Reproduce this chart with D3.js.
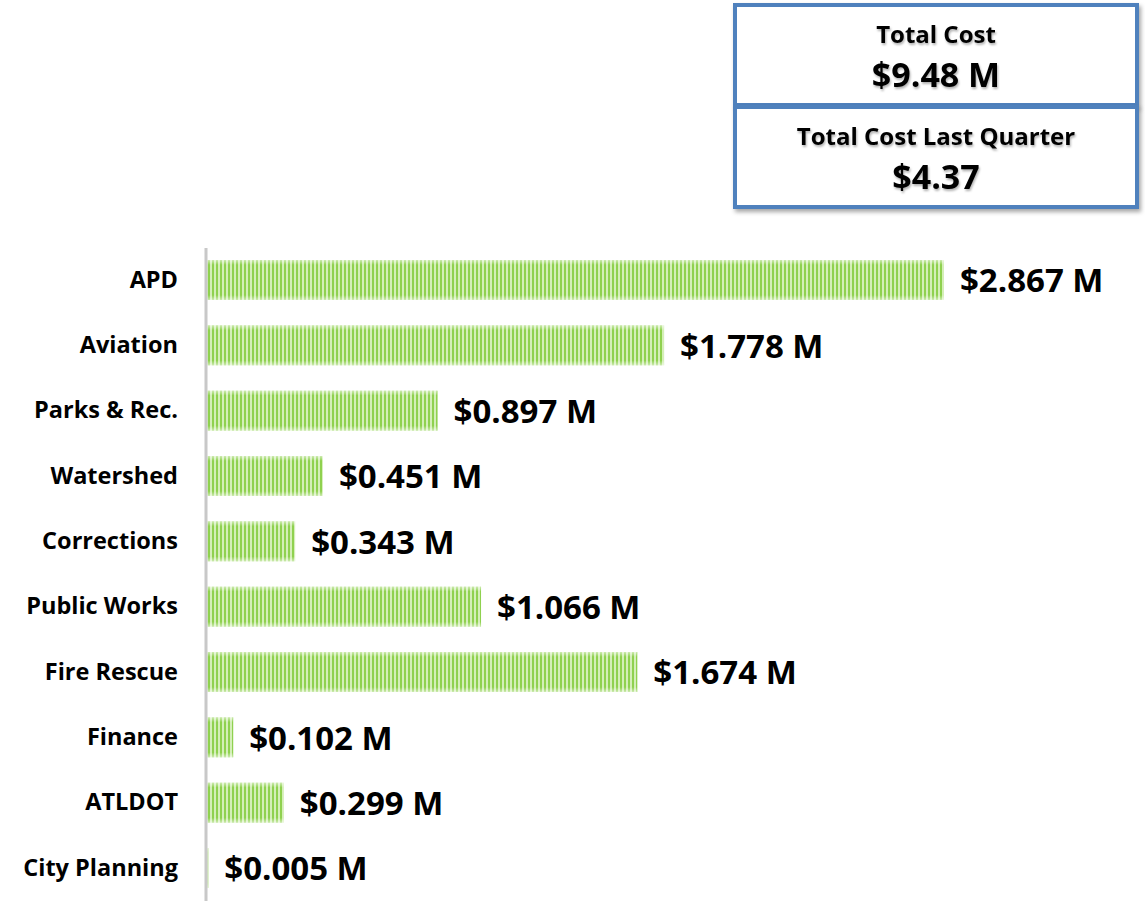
<!DOCTYPE html>
<html>
<head>
<meta charset="utf-8">
<script src="https://cdn.jsdelivr.net/npm/d3@7"></script>
<style>
  body { margin: 0; background: #fff; }
  svg { display: block; font-family: "Open Sans", sans-serif; font-weight: bold; }
</style>
</head>
<body>
<svg id="chart"></svg>
<script>
// department cost chart
const departments = ["APD", "Aviation", "Parks & Rec.", "Watershed", "Corrections",
    "Public Works", "Fire Rescue", "Finance", "ATLDOT", "City Planning"];
const costs = [2.867, 1.778, 0.897, 0.451, 0.343, 1.066, 1.674, 0.102, 0.299, 0.005];

const summaryTitles = ["Total Cost", "Total Cost Last Quarter"];
const summaryValues = ["$9.48 M", "$4.37"];

const width = 1145, height = 904;

const svg = d3.select("#chart")
    .attr("width", width)
    .attr("height", height);

const defs = svg.append("defs");

// vertical stripes for bars
const pat = defs.append("pattern")
    .attr("id", "stripes")
    .attr("patternUnits", "userSpaceOnUse")
    .attr("width", 4)
    .attr("height", 4);
pat.append("rect").attr("width", 4).attr("height", 4).attr("fill", "#d4efb8");
pat.append("rect").attr("width", 2).attr("height", 4).attr("fill", "#8fd14f");

// soft fade at top/bottom of bars
const fade = defs.append("linearGradient")
    .attr("id", "fade")
    .attr("x1", 0).attr("y1", 0).attr("x2", 0).attr("y2", 1);
fade.append("stop").attr("offset", "0%").attr("stop-color", "#fff").attr("stop-opacity", 0.55);
fade.append("stop").attr("offset", "12%").attr("stop-color", "#fff").attr("stop-opacity", 0);
fade.append("stop").attr("offset", "88%").attr("stop-color", "#fff").attr("stop-opacity", 0);
fade.append("stop").attr("offset", "100%").attr("stop-color", "#fff").attr("stop-opacity", 0.55);

const shadow = defs.append("filter").attr("id", "shadow")
    .attr("x", "-5%").attr("y", "-10%").attr("width", "115%").attr("height", "130%");
shadow.append("feDropShadow")
    .attr("dx", 2).attr("dy", 3).attr("stdDeviation", 2)
    .attr("flood-color", "#000").attr("flood-opacity", 0.35);

const textShadow = defs.append("filter").attr("id", "tshadow");
textShadow.append("feDropShadow")
    .attr("dx", 1).attr("dy", 2).attr("stdDeviation", 1.2)
    .attr("flood-color", "#000").attr("flood-opacity", 0.3);

// scales
const x = d3.scaleLinear()
    .domain([0, 2.867])
    .range([207, 944]);

const y = d3.scaleBand()
    .domain(departments)
    .range([247, 901])
    .paddingInner(0.39)
    .paddingOuter(0.2);

// bars
const bars = svg.append("g");
bars.selectAll("rect.bar")
    .data(costs)
    .join("rect")
    .attr("class", "bar")
    .attr("x", x(0))
    .attr("y", (d, i) => y(departments[i]))
    .attr("width", d => x(d) - x(0))
    .attr("height", y.bandwidth())
    .attr("fill", "url(#stripes)");

bars.selectAll("rect.fade")
    .data(costs)
    .join("rect")
    .attr("class", "fade")
    .attr("x", x(0))
    .attr("y", (d, i) => y(departments[i]))
    .attr("width", d => x(d) - x(0))
    .attr("height", y.bandwidth())
    .attr("fill", "url(#fade)");

// axis line on the left
const axis = svg.append("g")
    .attr("transform", `translate(${x(0) - 1},0)`)
    .call(d3.axisLeft(y).tickSize(0).tickPadding(28));
axis.select(".domain")
    .attr("d", `M0,248V901`)
    .attr("stroke", "#c8c8c8")
    .attr("stroke-width", 3);
axis.selectAll(".tick text")
    .attr("font-family", "Open Sans, sans-serif")
    .attr("font-weight", "bold")
    .attr("font-size", 23.5)
    .attr("fill", "#000");

// value labels
svg.append("g").selectAll("text")
    .data(costs)
    .join("text")
    .attr("x", d => x(d) + 16)
    .attr("y", (d, i) => y(departments[i]) + y.bandwidth() / 2)
    .attr("dy", "0.37em")
    .attr("font-size", 33)
    .attr("fill", "#000")
    .text(d => `$${d.toFixed(3)} M`);

// summary boxes top right
const boxY = [5, 107];
const box = svg.append("g").selectAll("g")
    .data(summaryTitles)
    .join("g")
    .attr("transform", (d, i) => `translate(735,${boxY[i]})`);

box.append("rect")
    .attr("width", 402)
    .attr("height", 100)
    .attr("fill", "#fff")
    .attr("stroke", "#4f81bd")
    .attr("stroke-width", 4)
    .attr("filter", "url(#shadow)");

box.append("text")
    .attr("x", 201)
    .attr("y", 38)
    .attr("text-anchor", "middle")
    .attr("font-size", 24)
    .attr("filter", "url(#tshadow)")
    .text(d => d);

box.append("text")
    .attr("x", 201)
    .attr("y", 82)
    .attr("text-anchor", "middle")
    .attr("font-size", 34)
    .attr("filter", "url(#tshadow)")
    .text((d, i) => summaryValues[i]);
</script>
</body>
</html>
